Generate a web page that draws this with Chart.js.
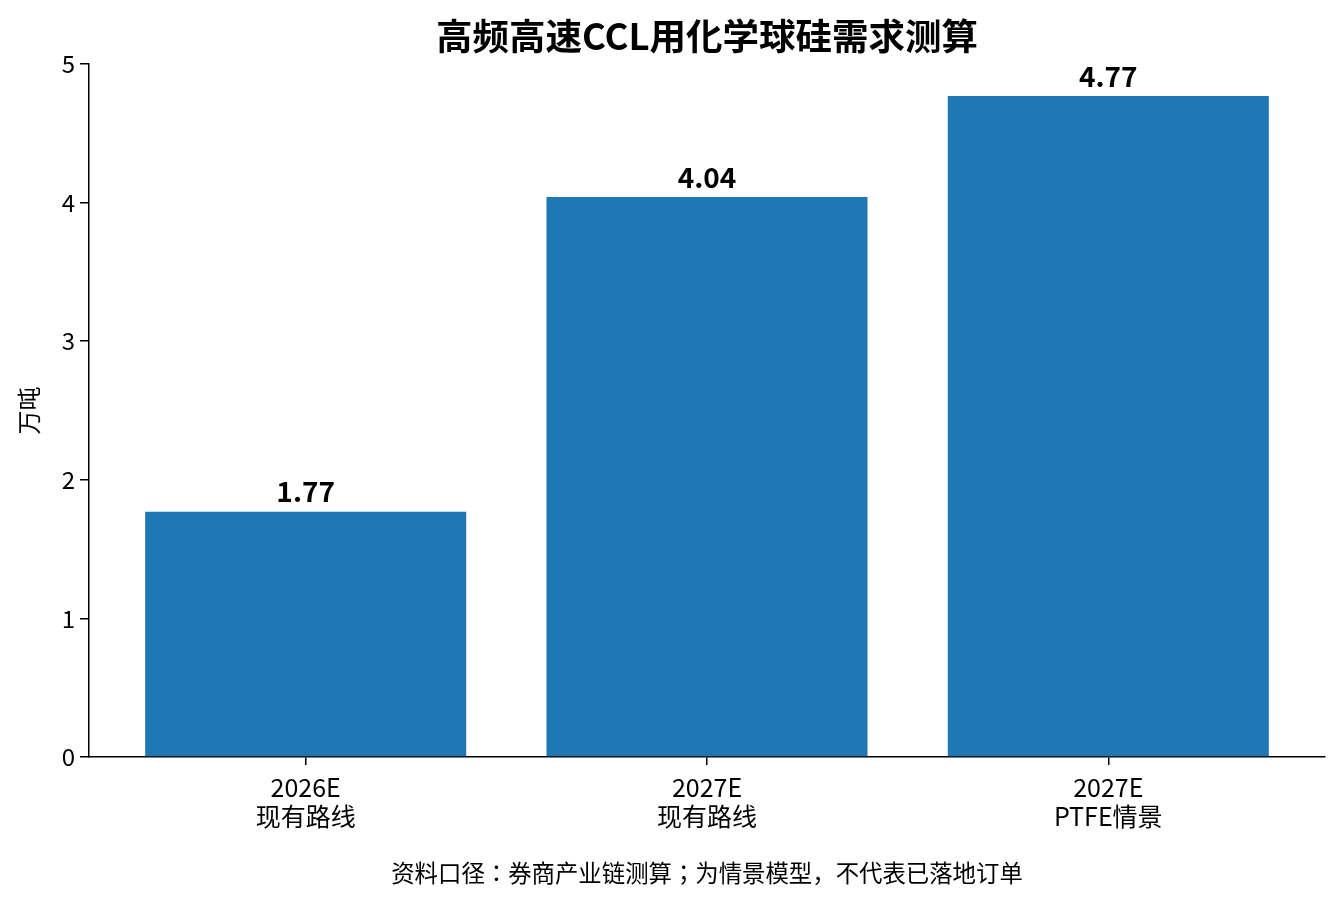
<!DOCTYPE html>
<html>
<head>
<meta charset="utf-8">
<title>高频高速CCL用化学球硅需求测算</title>
<script src="https://cdn.jsdelivr.net/npm/chart.js@4/dist/chart.umd.min.js"></script>
<style>
    html, body { margin: 0; padding: 0; background: #fff; }
    #demandChart { display: block; }
</style>
</head>
<body>
<canvas id="demandChart" width="1342" height="905"></canvas>
<script>
// Chart data
const categories = [['2026E', '现有路线'], ['2027E', '现有路线'], ['2027E', 'PTFE情景']];
const positions = [0, 1, 2];
const demand = [1.77, 4.04, 4.77];
const yTicks = [0, 1, 2, 3, 4, 5];
const titleText = '高频高速CCL用化学球硅需求测算';
const noteText = '资料口径：券商产业链测算；为情景模型，不代表已落地订单';

const FONT = '"Noto Sans CJK JP", "Noto Sans CJK SC", "Noto Sans", sans-serif';
Chart.defaults.color = '#000';
Chart.defaults.font.family = FONT;

// value labels above bars, title and note centred on the plot area
const annotate = {
    id: 'annotate',
    afterDatasetsDraw(chart) {
        const ctx = chart.ctx;
        const area = chart.chartArea;
        const cx = (area.left + area.right) / 2;
        const meta = chart.getDatasetMeta(0);
        ctx.save();
        ctx.fillStyle = '#000';
        ctx.textAlign = 'center';
        ctx.textBaseline = 'middle';

        ctx.font = 'bold 28px ' + FONT;
        meta.data.forEach((bar, i) => {
            ctx.fillText(demand[i].toFixed(2), bar.x, bar.y - 20);
        });

        ctx.font = 'bold 36.5px ' + FONT;
        ctx.fillText(titleText, cx, 36);

        ctx.font = '23.4px ' + FONT;
        ctx.fillText(noteText, cx, 873);
        ctx.restore();
    }
};

const ctx = document.getElementById('demandChart').getContext('2d');
new Chart(ctx, {
    type: 'bar',
    data: {
        datasets: [{
            label: '需求',
            data: positions.map((p, i) => ({ x: p, y: demand[i] })),
            backgroundColor: '#1f77b4',
            borderWidth: 0,
            categoryPercentage: 1.0,
            barPercentage: 0.8
        }]
    },
    options: {
        responsive: false,
        animation: false,
        layout: { padding: { left: 0, right: 17, top: 64, bottom: 44 } },
        plugins: {
            legend: { display: false },
            tooltip: { enabled: false },
            title: { display: false }
        },
        scales: {
            x: {
                type: 'linear',
                min: -0.54,
                max: 2.54,
                offset: false,
                afterBuildTicks: (scale) => {
                    scale.ticks = positions.map(v => ({ value: v }));
                },
                afterFit: (scale) => { scale.height = 104; },
                ticks: {
                    font: { size: 25, lineHeight: 1.16 },
                    padding: 8,
                    maxRotation: 0,
                    autoSkip: false,
                    callback: (value) => categories[Math.round(value)]
                },
                grid: {
                    offset: false,
                    drawOnChartArea: false,
                    drawTicks: true,
                    tickLength: 8,
                    color: '#000',
                    lineWidth: 1.5
                },
                border: { display: true, color: '#000', width: 1.5 }
            },
            y: {
                min: 0,
                max: 5,
                afterBuildTicks: (scale) => {
                    scale.ticks = yTicks.map(v => ({ value: v }));
                },
                afterFit: (scale) => { scale.width = 89; },
                ticks: {
                    font: { size: 24 },
                    padding: 5,
                    callback: (value) => String(value)
                },
                title: {
                    display: true,
                    text: '万吨',
                    font: { size: 24, lineHeight: 1.2 },
                    padding: { top: 14, bottom: 0 }
                },
                grid: {
                    drawOnChartArea: false,
                    drawTicks: true,
                    tickLength: 9,
                    color: '#000',
                    lineWidth: 1.5
                },
                border: { display: true, color: '#000', width: 1.5 }
            }
        }
    },
    plugins: [annotate]
});
</script>
</body>
</html>
